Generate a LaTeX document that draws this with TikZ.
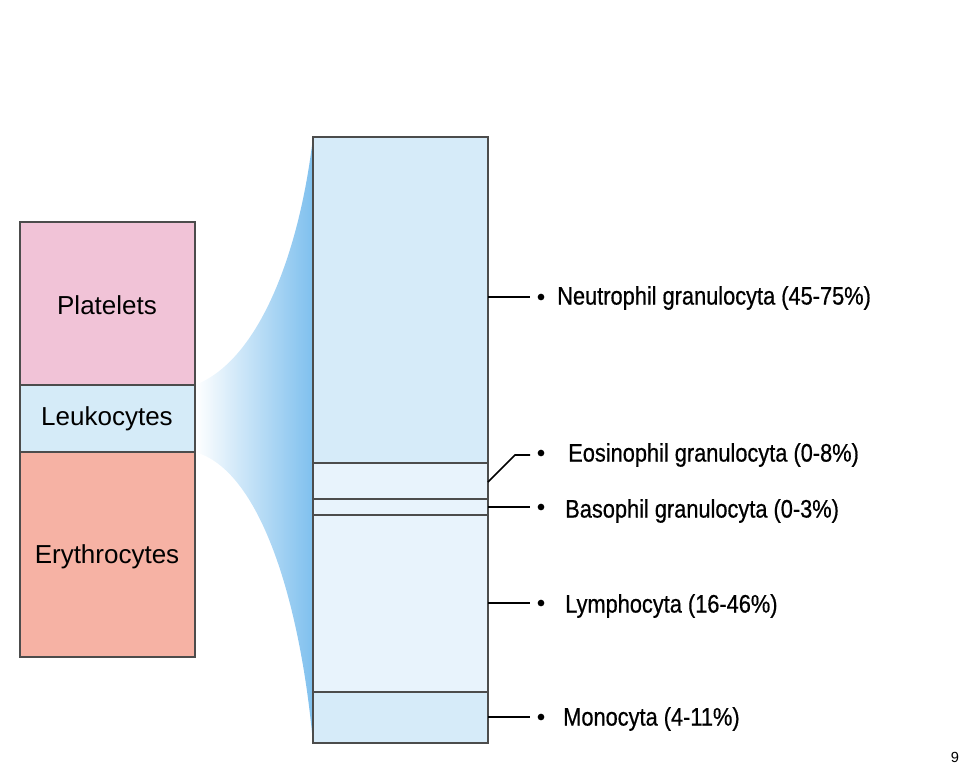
\documentclass[tikz,border=0pt]{standalone}
\usepackage{fontspec}
\setmainfont{Liberation Sans}
\newfontfamily\labelfont[FakeStretch=0.86,FakeBold=0.6]{Liberation Sans}
\definecolor{pinkbox}{HTML}{F1C3D7}
\definecolor{leukobox}{HTML}{D5EBF8}
\definecolor{erybox}{HTML}{F6B2A4}
\definecolor{cellblue}{HTML}{D6EBF9}
\definecolor{palecell}{HTML}{E8F3FC}
\definecolor{fanblue}{HTML}{7FC0EE}
\tikzset{
  band/.style={draw=black!70, line width=1.2pt},
  leader/.style={line width=1.2pt},
  dotmark/.style={circle, fill=black, inner sep=0pt, minimum size=5pt},
  celllabel/.style={anchor=west, inner sep=0pt, font=\labelfont\fontsize{19}{22}\selectfont},
  boxlabel/.style={font=\fontsize{19.5}{22}\selectfont}
}
\begin{document}
\begin{tikzpicture}[x=0.75pt,y=-0.75pt]
  \useasboundingbox (0,0) rectangle (960,769);

  % fan
  \shade[left color=white, right color=fanblue]
    (195,385) .. controls (260,360) and (300,250) .. (313,137) -- (313,743)
    .. controls (300,600) and (260,470) .. (195,452) -- cycle;

  % left column
  \draw[band, fill=pinkbox] (20,222) rectangle (195,385);
  \draw[band, fill=leukobox] (20,385) rectangle (195,452);
  \draw[band, fill=erybox] (20,452) rectangle (195,657);
  \node[boxlabel] (plt) at (107,305) {Platelets};
  \node[boxlabel] (leu) at (107,419) {Leukocytes};
  \node[boxlabel] (ery) at (107,557) {Erythrocytes};

  % right column
  \draw[band, fill=cellblue] (313,137) rectangle (488,463);
  \draw[band, fill=palecell] (313,463) rectangle (488,499);
  \draw[band, fill=palecell] (313,499) rectangle (488,515);
  \draw[band, fill=palecell] (313,515) rectangle (488,692);
  \draw[band, fill=cellblue] (313,692) rectangle (488,743);

  % leaders
  \coordinate (neu) at (488,297);
  \coordinate (eos) at (488,482);
  \coordinate (eosk) at (515,455);
  \coordinate (bas) at (488,507);
  \coordinate (lym) at (488,603);
  \coordinate (mon) at (488,717);
  \node[dotmark] (dneu) at (541,297) {};
  \node[dotmark] (deos) at (541,453) {};
  \node[dotmark] (dbas) at (541,507) {};
  \node[dotmark] (dlym) at (541,603) {};
  \node[dotmark] (dmon) at (541,717) {};
  \draw[leader] (neu) -- (530,297);
  \draw[leader] (eos) -- (eosk) -- (530,455);
  \draw[leader] (bas) -- (530,507);
  \draw[leader] (lym) -- (530,603);
  \draw[leader] (mon) -- (530,717);

  \node[celllabel] (tneu) at (557,298) {Neutrophil granulocyta (45-75\%)};
  \node[celllabel] (teos) at (568,455) {Eosinophil granulocyta (0-8\%)};
  \node[celllabel] (tbas) at (565,511) {Basophil granulocyta (0-3\%)};
  \node[celllabel] (tlym) at (565,606) {Lymphocyta (16-46\%)};
  \node[celllabel] (tmon) at (563,719) {Monocyta (4-11\%)};

  \node[font=\fontsize{11}{13}\selectfont] (pg) at (955,757) {9};
\end{tikzpicture}
\end{document}
